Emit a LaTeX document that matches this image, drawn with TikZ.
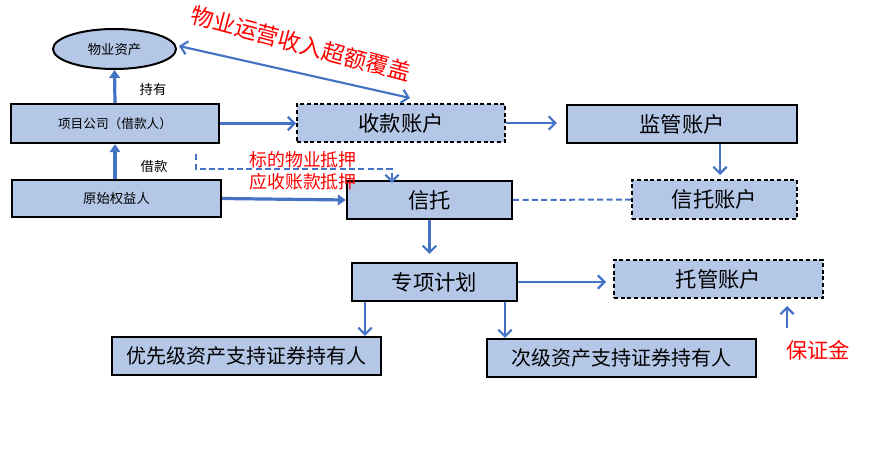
\documentclass[tikz,border=0pt]{standalone}
\usepackage{fontspec}
\setmainfont{Noto Sans CJK SC}
\usetikzlibrary{arrows.meta,shapes.geometric}
\definecolor{boxfill}{HTML}{B4C7E7}
\definecolor{lineblue}{HTML}{4472C4}
\begin{document}
\begin{tikzpicture}[x=0.75pt,y=-0.75pt,
 box/.style={draw=black,fill=boxfill,line width=1.8pt,inner sep=0pt},
 dbox/.style={box,line width=1.5pt,dash pattern=on 3pt off 2pt},
 flow/.style={draw=lineblue,line width=1.6pt,-{Straight Barb[length=5pt,width=10pt]}},
 bigflow/.style={draw=lineblue,line width=2.4pt,-{Triangle[length=6pt,width=8pt]}},
 bluedash/.style={draw=lineblue,line width=1.5pt,dash pattern=on 4.5pt off 2.5pt},
 small/.style={font=\fontsize{10}{12}\selectfont},
 big/.style={font=\fontsize{16}{19}\selectfont},
 mid/.style={font=\fontsize{15}{18}\selectfont},
 redt/.style={text=red}]
\useasboundingbox (0,0) rectangle (879,449);

% nodes
\node[draw=black,fill=boxfill,ellipse,line width=1.5pt,inner sep=0pt,
      minimum width=123*0.75pt,minimum height=40*0.75pt,small] (asset) at (114.5,49) {物业资产};
\node[box,minimum width=208*0.75pt,minimum height=39*0.75pt,font=\fontsize{9.5}{12}\selectfont] (proj) at (115,123.5) {项目公司（借款人）};
\node[box,minimum width=209*0.75pt,minimum height=37*0.75pt,small] (orig) at (116.5,198.5) {原始权益人};
\node[dbox,minimum width=208*0.75pt,minimum height=38*0.75pt,big] (recv) at (401,123) {收款账户};
\node[box,minimum width=230*0.75pt,minimum height=38*0.75pt,big] (super) at (682,124) {监管账户};
\node[box,minimum width=165*0.75pt,minimum height=38*0.75pt,big] (trust) at (429.5,200) {信托};
\node[dbox,minimum width=165*0.75pt,minimum height=39*0.75pt,big] (tacc) at (714.5,199.5) {信托账户};
\node[box,minimum width=165*0.75pt,minimum height=38*0.75pt,big] (plan) at (434.5,282) {专项计划};
\node[dbox,minimum width=209*0.75pt,minimum height=38*0.75pt,big] (cust) at (718.5,279) {托管账户};
\node[box,minimum width=269*0.75pt,minimum height=38*0.75pt,mid] (senior) at (246.5,356) {优先级资产支持证券持有人};
\node[box,minimum width=269*0.75pt,minimum height=38*0.75pt,mid] (sub) at (621.5,358) {次级资产支持证券持有人};

% labels
\node[small] (hold) at (153,89) {持有};
\node[small] (loan) at (154,166) {借款};
\node[redt,rotate=-15,font=\fontsize{17}{20}\selectfont] (income) at (301,44) {物业运营收入超额覆盖};
\node[big,redt] (margin) at (818,350) {保证金};

% connectors
\draw[bigflow] (proj.north) -- (asset.south);
\draw[bigflow] (proj.south |- orig.north) -- (proj.south);
\draw[draw=lineblue,line width=1.6pt,{Straight Barb[length=5pt,width=10pt]}-{Straight Barb[length=5pt,width=10pt]}]
  ([shift={(2,-3)}]asset.east) -- ([shift={(9,-5)}]recv.north);
\draw[flow] (proj.east) -- (proj.east -| recv.west);
\draw[flow] (recv.east) -- ([shift={(-9,0)}]recv.east -| super.west);
\draw[flow] ([shift={(5.5,0)}]tacc.north |- super.south) -- ([shift={(5.5,-4)}]tacc.north);
\draw[bluedash,-{Straight Barb[length=5pt,width=10pt]}]
  ([shift={(81,10)}]proj.south) -- ++(0,15) -| ([shift={(-37.5,3)}]trust.north);
\draw[bigflow] (orig.east) -- (trust.west);
\draw[bluedash] (trust.east) -- (tacc.west);
\draw[flow] (trust.south) -- ([shift={(0,-8)}]trust.south |- plan.north);
\draw[flow] (plan.east) -- ([shift={(-7,0)}]plan.east -| cust.west);
\draw[flow] ([shift={(-69.5,0)}]plan.south) -- ([shift={(-69.5,0)}]plan.south |- senior.north);
\draw[flow] ([shift={(70.5,0)}]plan.south) -- ([shift={(70.5,0)}]plan.south |- sub.north);
\draw[flow] ([shift={(68.5,29)}]cust.south) -- ([shift={(68.5,7)}]cust.south);

% mortgage labels (on top)
\node[redt,font=\fontsize{13.4}{16}\selectfont] (m1) at (303,160) {标的物业抵押};
\node[redt,font=\fontsize{13.4}{16}\selectfont] (m2) at (303,182) {应收账款抵押};
\end{tikzpicture}
\end{document}
